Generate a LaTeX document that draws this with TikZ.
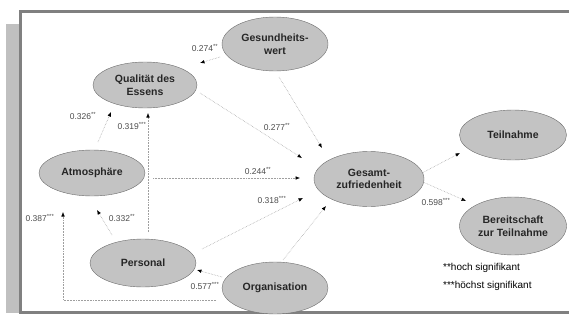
\documentclass[tikz,border=0pt]{standalone}
\usepackage{fontspec}
\setmainfont{Liberation Sans}
\usetikzlibrary{arrows.meta,shapes.geometric,calc}

\definecolor{framegray}{HTML}{808080}
\definecolor{bandgray}{HTML}{C0C0C0}
\definecolor{fillgray}{HTML}{C3C3C3}
\newcommand{\sig}[1]{\textsuperscript{#1}}

\begin{document}
\begin{tikzpicture}[x=1pt, y=-1pt,
factor/.style={ellipse, draw=gray!85!black, fill=fillgray, inner sep=0pt, align=center, minimum width=106pt, minimum height=48pt, font=\fontsize{10.5}{12.5}\selectfont\bfseries, text=black!85},
arrow/.style={-{Latex[length=4.5pt,width=3.6pt,color=black]}, densely dotted, gray!75, line width=0.55pt},
coef/.style={inner sep=0pt, font=\fontsize{8.5}{10}\selectfont, text=black!70},
legend/.style={anchor=west, inner sep=0pt, font=\fontsize{10}{12}\selectfont}
]
\useasboundingbox (0,0) rectangle (569,321);
\fill[bandgray] (6,24) rectangle (19,313);
\draw[framegray, line width=3pt] (569,12) -- (20.5,12) -- (20.5,312) -- (569,312);

\node[factor, minimum height=54pt] (gw) at (275,44) {Gesundheits-\\wert};
\node[factor, minimum width=104pt, minimum height=46pt] (qual) at (145,85) {Qualität des\\Essens};
\node[factor, minimum height=46pt] (atm) at (92,173) {Atmosphäre};
\node[factor] (pers) at (143,263) {Personal};
\node[factor, minimum height=52pt] (org) at (275,288) {Organisation};
\node[factor, minimum width=110pt, minimum height=55pt] (ges) at (369,179) {Gesamt-\\zufriedenheit};
\node[factor, minimum width=107pt, minimum height=50pt] (teil) at (513,135) {Teilnahme};
\node[factor, minimum width=107pt, minimum height=58pt] (bereit) at (513,226) {Bereitschaft\\zur Teilnahme};

\draw[arrow] ($(gw)+(-55,13)$) -- ($(qual)+(55,-22)$);
\draw[arrow] ($(gw)+(4,33)$) -- ($(ges)+(-47,-31)$);
\draw[arrow] ($(qual)+(55,8)$) -- ($(ges)+(-67,-21)$);
\draw[arrow] ($(atm)+(6,-31)$) -- ($(qual)+(-34,27)$);
\draw[arrow] ($(pers)+(5,-31)$) -- ($(qual)+(3,28)$);
\draw[arrow] ($(atm)+(61,5)$) -- ($(ges)+(-69,-1)$);
\draw[arrow] ($(pers)+(59,-14)$) -- ($(ges)+(-66,19)$);
\draw[arrow] ($(pers)+(-31,-28)$) -- ($(atm)+(5,37)$);
\draw[arrow] ($(org)+(-53,-11)$) -- ($(pers)+(54,7)$);
\draw[arrow] ($(org)+(-59,12)$) -| ($(atm)+(-29,39)$);
\draw[arrow] ($(org)+(8,-28)$) -- ($(ges)+(-43,27)$);
\draw[arrow] ($(ges)+(53,-6)$) -- ($(teil)+(-53,18)$);
\draw[arrow] ($(ges)+(54,3)$) -- ($(bereit)+(-47,-25)$);

\node[coef] (c1) at (205,48) {0.274\sig{**}};
\node[coef] (c2) at (277,127) {0.277\sig{**}};
\node[coef] (c3) at (83,116) {0.326\sig{**}};
\node[coef] (c4) at (132,126) {0.319\sig{***}};
\node[coef] (c5) at (258,171) {0.244\sig{**}};
\node[coef] (c6) at (272,200) {0.318\sig{***}};
\node[coef] (c7) at (122,218) {0.332\sig{**}};
\node[coef] (c8) at (40,218) {0.387\sig{***}};
\node[coef] (c9) at (205,286) {0.577\sig{***}};
\node[coef] (c10) at (436,202) {0.598\sig{***}};

\node[legend] (hoch) at (443,268) {**hoch signifikant};
\node[legend] (hoechst) at (443,286) {***höchst signifikant};
\end{tikzpicture}
\end{document}
